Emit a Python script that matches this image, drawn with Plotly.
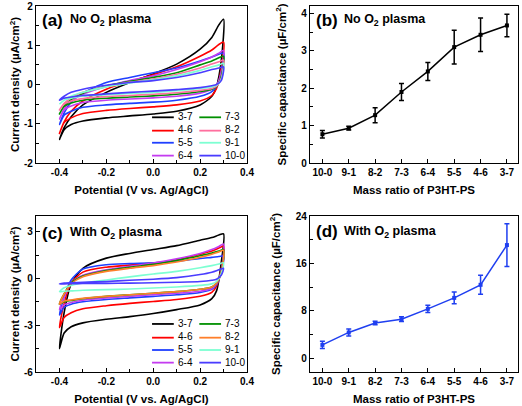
import plotly.graph_objects as go
from plotly.subplots import make_subplots

# ---------------- data ----------------
series_names = ["3-7", "4-6", "5-5", "6-4", "7-3", "8-2", "9-1", "10-0"]
colors_a = ["#000000", "#ff0000", "#1f3fff", "#c43cf0", "#009000", "#ff6f9f", "#7dffd2", "#4a3cff"]
colors_c = ["#000000", "#ff0000", "#1f3fff", "#c43cf0", "#009000", "#ff7f2a", "#7dffd2", "#4a3cff"]

# potential sweep: forward (anodic) then reverse (cathodic)
potential_fwd = [-0.40, -0.38, -0.35, -0.30, -0.20, -0.10, 0.00, 0.10, 0.20, 0.25, 0.28, 0.30]
potential_rev = [0.29, 0.27, 0.25, 0.20, 0.10, 0.00, -0.10, -0.20, -0.30, -0.35, -0.38, -0.40]

# (a) No O2 plasma, current density (uA/cm2)
a_37 = [-1.40, -1.10, -0.82, -0.52, -0.20, 0.05, 0.27, 0.52, 0.90, 1.20, 1.52, 1.66,
        0.60, -0.05, -0.30, -0.52, -0.68, -0.75, -0.80, -0.85, -0.93, -1.02, -1.15, -1.40]
a_46 = [-1.25, -0.95, -0.68, -0.42, -0.12, 0.08, 0.25, 0.45, 0.72, 0.88, 1.02, 1.08,
        0.40, -0.10, -0.28, -0.42, -0.52, -0.57, -0.61, -0.66, -0.74, -0.85, -0.97, -1.25]
a_55 = [-1.02, -0.72, -0.45, -0.22, 0.05, 0.18, 0.30, 0.42, 0.60, 0.70, 0.77, 0.80,
        0.30, -0.05, -0.18, -0.30, -0.40, -0.45, -0.48, -0.52, -0.58, -0.68, -0.78, -1.02]
a_64 = [-0.88, -0.62, -0.42, -0.25, -0.05, 0.10, 0.22, 0.38, 0.58, 0.70, 0.80, 0.87,
        0.30, -0.02, -0.12, -0.22, -0.30, -0.34, -0.37, -0.40, -0.46, -0.55, -0.65, -0.88]
a_73 = [-0.75, -0.55, -0.38, -0.22, -0.04, 0.08, 0.18, 0.30, 0.50, 0.60, 0.68, 0.72,
        0.20, -0.05, -0.12, -0.18, -0.25, -0.29, -0.32, -0.35, -0.40, -0.47, -0.56, -0.75]
a_82 = [-0.65, -0.48, -0.34, -0.20, -0.05, 0.06, 0.14, 0.26, 0.42, 0.52, 0.58, 0.62,
        0.15, -0.04, -0.10, -0.15, -0.21, -0.25, -0.28, -0.31, -0.36, -0.42, -0.50, -0.65]
a_91 = [-0.50, -0.40, -0.30, -0.20, -0.06, 0.04, 0.12, 0.22, 0.36, 0.45, 0.50, 0.54,
        0.12, -0.02, -0.06, -0.10, -0.16, -0.20, -0.23, -0.26, -0.30, -0.35, -0.40, -0.50]
a_100 = [-0.40, -0.30, -0.20, -0.12, -0.02, 0.05, 0.10, 0.18, 0.30, 0.38, 0.42, 0.45,
         0.10, 0.00, -0.03, -0.08, -0.13, -0.17, -0.20, -0.24, -0.28, -0.32, -0.35, -0.40]

# (c) With O2 plasma, current density (uA/cm2)
c_37 = [-4.50, -2.20, -0.35, 0.65, 1.30, 1.60, 1.85, 2.10, 2.45, 2.62, 2.78, 2.85,
        1.00, -0.80, -1.30, -1.70, -2.00, -2.25, -2.45, -2.62, -2.85, -3.10, -3.50, -4.50]
c_46 = [-3.15, -1.60, -0.30, 0.40, 0.72, 0.85, 0.98, 1.20, 1.55, 1.75, 1.95, 2.05,
        0.60, -0.50, -0.90, -1.15, -1.35, -1.48, -1.60, -1.75, -1.95, -2.20, -2.50, -3.15]
c_55 = [-2.35, -1.20, -0.10, 0.60, 0.88, 0.95, 1.00, 1.10, 1.28, 1.35, 1.40, 1.42,
        0.40, -0.40, -0.70, -0.90, -1.05, -1.15, -1.25, -1.35, -1.50, -1.65, -1.85, -2.35]
c_64 = [-2.00, -1.20, -0.30, 0.20, 0.55, 0.78, 0.98, 1.25, 1.60, 1.85, 2.05, 2.20,
        0.50, -0.35, -0.65, -0.82, -0.95, -1.05, -1.15, -1.25, -1.40, -1.55, -1.70, -2.00]
c_73 = [-1.65, -1.00, -0.30, 0.15, 0.50, 0.72, 0.90, 1.15, 1.45, 1.62, 1.75, 1.85,
        0.40, -0.30, -0.55, -0.70, -0.85, -0.95, -1.05, -1.15, -1.30, -1.42, -1.50, -1.65]
c_82 = [-1.65, -1.00, -0.35, 0.10, 0.45, 0.65, 0.82, 1.05, 1.35, 1.55, 1.70, 1.80,
        0.35, -0.30, -0.55, -0.70, -0.85, -0.95, -1.05, -1.15, -1.28, -1.38, -1.45, -1.65]
c_91 = [-0.85, -0.60, -0.45, -0.30, -0.10, 0.10, 0.28, 0.45, 0.68, 0.82, 0.92, 1.00,
        0.30, -0.20, -0.35, -0.45, -0.55, -0.62, -0.68, -0.72, -0.76, -0.80, -0.82, -0.85]
c_100 = [-0.35, -0.30, -0.28, -0.25, -0.20, -0.12, -0.05, 0.05, 0.25, 0.40, 0.55, 0.65,
         0.20, -0.05, -0.12, -0.20, -0.25, -0.28, -0.30, -0.32, -0.33, -0.34, -0.35, -0.35]

# (b)/(d) specific capacitance vs mass ratio
mass_ratio = ["10-0", "9-1", "8-2", "7-3", "6-4", "5-5", "4-6", "3-7"]
cap_no_plasma = [0.77, 0.93, 1.28, 1.90, 2.45, 3.10, 3.43, 3.68]
err_no_plasma = [0.10, 0.05, 0.20, 0.23, 0.24, 0.45, 0.45, 0.30]
cap_plasma = [2.27, 4.37, 5.97, 6.60, 8.35, 10.2, 12.4, 19.1]
err_plasma = [0.60, 0.60, 0.30, 0.40, 0.60, 1.0, 1.6, 3.6]

# tick labels (plain hyphen minus, as in the original)
pot_ticks = [-0.4, -0.2, 0.0, 0.2, 0.4]
pot_ticktext = ["-0.4", "-0.2", "0.0", "0.2", "0.4"]
cur_a_ticks = [-2, -1, 0, 1, 2]
cur_a_ticktext = ["-2", "-1", "0", "1", "2"]
cur_c_ticks = [-6, -3, 0, 3]
cur_c_ticktext = ["-6", "-3", "0", "3"]

curves_a = [a_37, a_46, a_55, a_64, a_73, a_82, a_91, a_100]
curves_c = [c_37, c_46, c_55, c_64, c_73, c_82, c_91, c_100]
potential = potential_fwd + potential_rev

# ---------------- figure ----------------
FONT = "Liberation Sans, Arial, sans-serif"
fig = make_subplots(rows=2, cols=2)

for (r, colors, curves) in ((1, colors_a, curves_a), (2, colors_c, curves_c)):
    for name, col, cur in zip(series_names, colors, curves):
        fig.add_trace(go.Scatter(x=potential, y=cur, mode="lines", name=name,
                                 line=dict(color=col, width=1.6, shape="spline", smoothing=0.7),
                                 showlegend=False), row=r, col=1)

fig.add_trace(go.Scatter(x=mass_ratio, y=cap_no_plasma, mode="lines+markers",
                         line=dict(color="black", width=1.5),
                         marker=dict(symbol="square", size=4, color="black"),
                         error_y=dict(type="data", array=err_no_plasma, color="black",
                                      thickness=1.5, width=2.5),
                         showlegend=False), row=1, col=2)
fig.add_trace(go.Scatter(x=mass_ratio, y=cap_plasma, mode="lines+markers",
                         line=dict(color="#1f3ff0", width=1.5),
                         marker=dict(symbol="square", size=4, color="#1f3ff0"),
                         error_y=dict(type="data", array=err_plasma, color="#1f3ff0",
                                      thickness=1.5, width=2.5),
                         showlegend=False), row=2, col=2)

W, H = 522, 406
dom_x_left = [36 / W, 247 / W]
dom_x_right = [310 / W, 518 / W]
dom_y_top = [1 - 163 / H, 1 - 6 / H]
dom_y_bot = [1 - 372 / H, 1 - 216 / H]

tickfont = dict(family=FONT, size=10, color="black", weight="bold")
titlefont = dict(family=FONT, size=11.5, color="black", weight="bold")
common = dict(showline=True, mirror=True, linecolor="black", linewidth=1.3,
              ticks="inside", ticklen=4, tickwidth=1.3, tickcolor="black",
              showgrid=False, zeroline=False, tickfont=tickfont, automargin=False)

for r in (1, 2):
    fig.update_xaxes(domain=dom_x_left, range=[-0.5, 0.4], tickvals=pot_ticks, ticktext=pot_ticktext,
                     minor=dict(ticks="inside", tick0=-0.5, dtick=0.1, ticklen=2.5,
                                tickcolor="black", tickwidth=1),
                     title=dict(text="Potential (V vs. Ag/AgCl)", font=titlefont, standoff=8),
                     **common, row=r, col=1)
    fig.update_xaxes(domain=dom_x_right, type="category", range=[-0.47, 7.42],
                     title=dict(text="Mass ratio of P3HT-PS", font=titlefont, standoff=8),
                     **common, row=r, col=2)
fig.update_yaxes(domain=dom_y_top, range=[-2, 2], tickvals=cur_a_ticks, ticktext=cur_a_ticktext,
                 minor=dict(ticks="inside", tick0=0, dtick=0.5, ticklen=2.5, tickcolor="black", tickwidth=1),
                 title=dict(text="Current density (µA/cm<sup>2</sup>)", font=titlefont, standoff=1),
                 **common, row=1, col=1)
fig.update_yaxes(domain=dom_y_bot, range=[-6, 4], tickvals=cur_c_ticks, ticktext=cur_c_ticktext,
                 minor=dict(ticks="inside", tick0=0, dtick=1.5, ticklen=2.5, tickcolor="black", tickwidth=1),
                 title=dict(text="Current density (µA/cm<sup>2</sup>)", font=titlefont, standoff=1),
                 **common, row=2, col=1)
fig.update_yaxes(domain=dom_y_top, range=[0, 4.2], dtick=1,
                 minor=dict(ticks="inside", dtick=0.5, ticklen=2.5, tickcolor="black", tickwidth=1),
                 title=dict(text="Specific capacitance (µF/cm<sup>2</sup>)", font=titlefont, standoff=12),
                 **common, row=1, col=2)
fig.update_yaxes(domain=dom_y_bot, range=[-2.3, 24], tick0=0, dtick=8,
                 minor=dict(ticks="inside", dtick=4, ticklen=2.5, tickcolor="black", tickwidth=1),
                 title=dict(text="Specific capacitance (µF/cm<sup>2</sup>)", font=titlefont, standoff=12),
                 **common, row=2, col=2)

# panel labels
panel_labels = [("x", "y", "(a)", "No O<sub>2</sub> plasma", 0.91),
                ("x2", "y2", "(b)", "No O<sub>2</sub> plasma", 0.91),
                ("x3", "y3", "(c)", "With O<sub>2</sub> plasma", 0.89),
                ("x4", "y4", "(d)", "With O<sub>2</sub> plasma", 0.90)]
for xr, yr, lab, txt, yy in panel_labels:
    fig.add_annotation(xref=f"{xr} domain", yref=f"{yr} domain", x=0.02, y=yy,
                       xanchor="left", yanchor="middle", showarrow=False, text=lab,
                       font=dict(family=FONT, size=17, color="black", weight="bold"))
    fig.add_annotation(xref=f"{xr} domain", yref=f"{yr} domain", x=0.152, y=yy,
                       xanchor="left", yanchor="middle", showarrow=False, text=txt,
                       font=dict(family=FONT, size=12.5, color="black", weight="bold"))

# in-plot two-column legends: one text block per column, keys styled like the traces
legend_cols = [[0, 1, 2, 3], [4, 5, 6, 7]]  # 3-7..6-4 | 7-3..10-0
leg_rows_a = [0.291, 0.206, 0.129, 0.047]
leg_rows_c = [0.308, 0.220, 0.141, 0.060]
col_line_x = [(0.550, 0.653), (0.774, 0.877)]
col_text_x = [0.665, 0.888]
for xr, yr, rows, cols in (("x", "y", leg_rows_a, colors_a), ("x3", "y3", leg_rows_c, colors_c)):
    for cc, members in enumerate(legend_cols):
        for rr, idx in enumerate(members):
            fig.add_shape(type="line", xref=f"{xr} domain", yref=f"{yr} domain",
                          x0=col_line_x[cc][0], x1=col_line_x[cc][1], y0=rows[rr], y1=rows[rr],
                          line=dict(color=cols[idx], width=1.8))
        fig.add_annotation(xref=f"{xr} domain", yref=f"{yr} domain", x=col_text_x[cc],
                           y=(rows[0] + rows[-1]) / 2,
                           xanchor="left", yanchor="middle", showarrow=False, align="left",
                           text="<br>".join(series_names[i] for i in members),
                           font=dict(family=FONT, size=10, color="black"))

fig.update_layout(width=W, height=H, margin=dict(l=0, r=0, t=0, b=0),
                  paper_bgcolor="white", plot_bgcolor="white", showlegend=False)
fig.write_html("out.html", config={"displayModeBar": False},
               post_script="document.body.style.margin='0px';")
